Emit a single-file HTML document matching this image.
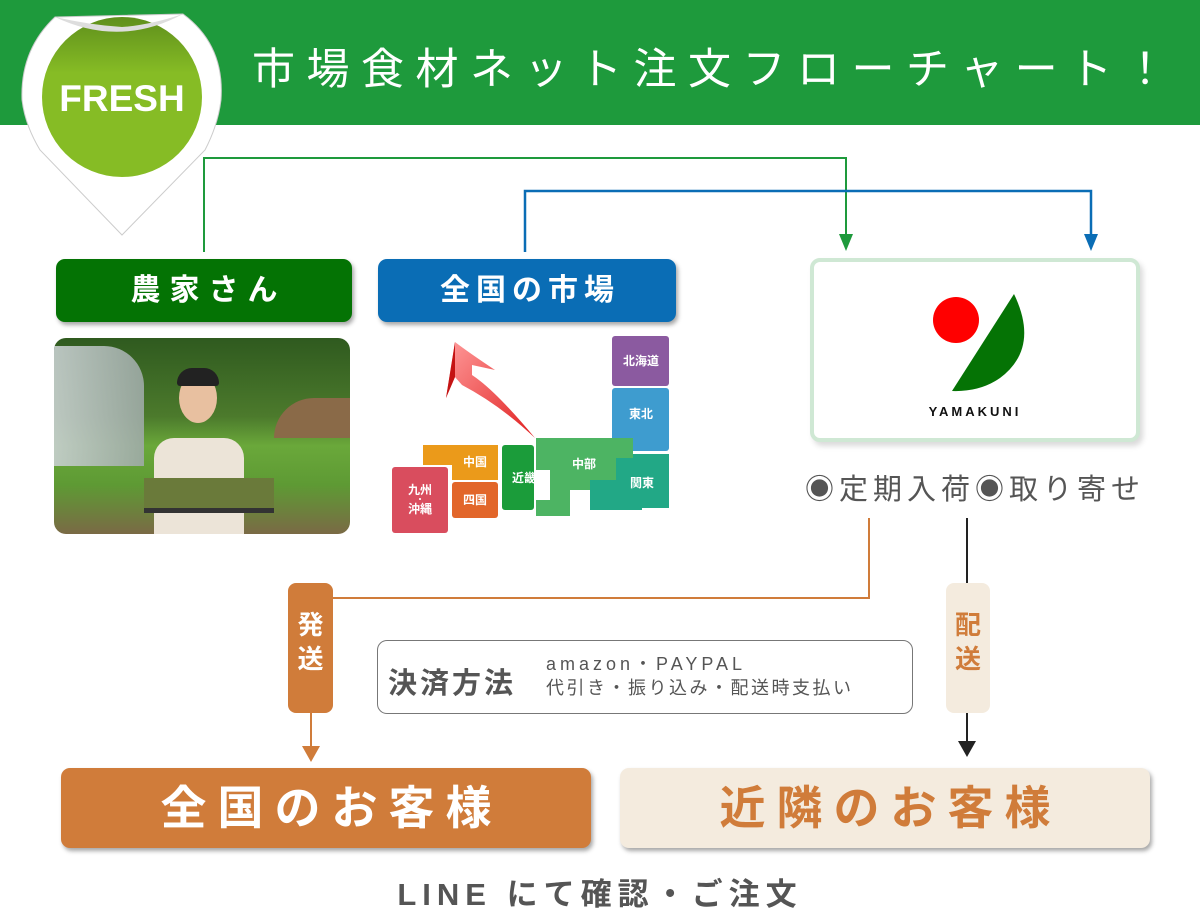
<!DOCTYPE html>
<html><head><meta charset="utf-8">
<style>
*{margin:0;padding:0;box-sizing:border-box}
body{width:1200px;height:920px;background:#fff;position:relative;overflow:hidden;font-family:"Liberation Sans","Noto Sans CJK JP",sans-serif}
.a{position:absolute}
.hdr{left:0;top:0;width:1200px;height:125px;background:#1e9a3c}
.title{left:252px;top:40px;color:#fff;font-size:43px;letter-spacing:11.5px;white-space:nowrap;line-height:60px}
.btn{border-radius:9px;color:#fff;font-weight:bold;text-align:center;box-shadow:2px 3px 4px rgba(0,0,0,.35);white-space:nowrap}
</style></head><body>
<div class="a hdr"></div>
<div class="a title">市場食材ネット注文フローチャート！</div>

<!-- badge -->
<svg class="a" style="left:0;top:0" width="240" height="240">
<path d="M55 17 L183 14 Q225 45 221 100 Q218 125 205 150 L122 235 L40 150 Q25 125 22 100 Q20 50 55 17Z" fill="#fff" stroke="#ccc" stroke-width="1"/>
<defs><linearGradient id="g" x1="0" y1="0" x2="0" y2="1"><stop offset="0" stop-color="#5f8f1c"/><stop offset=".35" stop-color="#86bc25"/><stop offset="1" stop-color="#86bc25"/></linearGradient>
<linearGradient id="r" x1="0" y1="0" x2="1" y2="1"><stop offset="0" stop-color="#ff9a9a"/><stop offset="1" stop-color="#e02020"/></linearGradient></defs>
<circle cx="122" cy="97" r="80" fill="url(#g)"/>
<path d="M55 17 Q120 48 183 14 Q150 25 122 27 Q90 25 55 17Z" fill="#ddd"/>
<text x="122" y="111" text-anchor="middle" font-family="Liberation Sans" font-weight="bold" font-size="37" fill="#fff">FRESH</text>
</svg>

<!-- connectors -->
<svg class="a" style="left:0;top:0" width="1200" height="920">
<polyline points="204,252 204,158 846,158 846,236" fill="none" stroke="#1e9a3c" stroke-width="2"/>
<polygon points="839,234 853,234 846,251" fill="#1e9a3c"/>
<polyline points="525,252 525,191 1091,191 1091,236" fill="none" stroke="#0a6db5" stroke-width="2.5"/>
<polygon points="1084,234 1098,234 1091,251" fill="#0a6db5"/>
<polyline points="869,518 869,598 333,598" fill="none" stroke="#d07c3a" stroke-width="2"/>
<line x1="311" y1="712" x2="311" y2="748" stroke="#d07c3a" stroke-width="2"/>
<polygon points="302,746 320,746 311,762" fill="#d07c3a"/>
<line x1="967" y1="518" x2="967" y2="583" stroke="#222" stroke-width="2"/>
<line x1="967" y1="712" x2="967" y2="742" stroke="#222" stroke-width="2"/>
<polygon points="958,741 976,741 967,757" fill="#222"/>
</svg>

<div class="a btn" style="left:56px;top:259px;width:296px;height:63px;background:#047304;font-size:30px;line-height:63px;letter-spacing:9px;padding-left:9px">農家さん</div>
<div class="a btn" style="left:378px;top:259px;width:298px;height:63px;background:#0a6db5;font-size:30px;line-height:63px;letter-spacing:6px;padding-left:6px">全国の市場</div>

<!-- photo -->
<div class="a" style="left:54px;top:338px;width:296px;height:196px;border-radius:12px;overflow:hidden;background:linear-gradient(180deg,#2f5a1f 0%,#4c7a2c 40%,#6aa83a 55%,#5e9a34 75%,#7a6a45 100%)">
<div class="a" style="left:0;top:8px;width:90px;height:120px;background:linear-gradient(90deg,#c8d0d0,#9eaaa6);border-radius:0 40px 0 0;opacity:.9"></div>
<div class="a" style="left:220px;top:60px;width:80px;height:40px;background:#8a6a48;border-radius:40px 0 0 0"></div>
<div class="a" style="left:100px;top:100px;width:90px;height:100px;background:#ece4d8;border-radius:20px 20px 0 0"></div>
<div class="a" style="left:125px;top:35px;width:38px;height:50px;background:#e8c0a0;border-radius:50%"></div>
<div class="a" style="left:123px;top:30px;width:42px;height:18px;background:#222;border-radius:20px 20px 4px 4px"></div>
<div class="a" style="left:90px;top:140px;width:130px;height:35px;background:#6a7a3a;border-bottom:5px solid #333"></div>
</div>

<!-- map -->
<svg class="a" style="left:380px;top:330px" width="300" height="210">
<path d="M155 108 Q115 60 92 45 L92 35 L115 40 Q88 22 75 12 L66 68 L75 47 L82 55 Q120 75 155 108Z" fill="url(#r)"/>
<path d="M75 12 L66 68 L75 47 Z" fill="#c41414"/>
<rect x="232" y="6" width="57" height="50" rx="3" fill="#8b5aa0"/>
<rect x="232" y="58" width="57" height="63" rx="3" fill="#3e9ccf"/>
<path d="M236 124 L289 124 L289 178 L262 178 L262 180 L210 180 L210 150 L236 150Z" fill="#22a886"/>
<path d="M156 108 L253 108 L253 128 L236 128 L236 150 L210 150 L210 160 L190 160 L190 186 L156 186 L156 170 L170 170 L170 140 L156 140Z" fill="#4db463"/>
<rect x="122" y="115" width="32" height="65" rx="3" fill="#1b9c3a"/>
<path d="M43 115 L118 115 L118 150 L72 150 L72 135 L43 135Z" fill="#eb9a1a"/>
<rect x="72" y="152" width="46" height="36" rx="3" fill="#e2662a"/>
<rect x="12" y="137" width="56" height="66" rx="3" fill="#d94d5e"/>
<g font-family="Liberation Sans,Noto Sans CJK JP" font-weight="bold" font-size="12" fill="#fff" text-anchor="middle">
<text x="261" y="35">北海道</text><text x="261" y="88">東北</text><text x="262" y="157">関東</text>
<text x="204" y="138">中部</text><text x="144" y="152">近畿</text><text x="95" y="136">中国</text><text x="95" y="174">四国</text>
<text x="40" y="164">九州</text><text x="40" y="172" font-size="8">・</text><text x="40" y="183">沖縄</text></g>
</svg>

<!-- yamakuni -->
<div class="a" style="left:810px;top:258px;width:330px;height:184px;border:4px solid #cfe8d4;border-radius:10px;background:#fff;box-shadow:3px 4px 6px rgba(0,0,0,.15)"></div>
<svg class="a" style="left:810px;top:258px" width="330" height="184">
<circle cx="146" cy="62" r="23" fill="#f00"/>
<path d="M204 36 Q230 90 190 120 Q170 134 142 133 Z" fill="#057305"/>
<text x="165" y="158" text-anchor="middle" font-family="Liberation Sans" font-weight="bold" font-size="13" letter-spacing="3" fill="#111">YAMAKUNI</text>
</svg>
<div class="a" style="left:805px;top:466px;font-size:29px;color:#555;white-space:nowrap;letter-spacing:5px">◉定期入荷◉取り寄せ</div>

<!-- 発送 / 配送 -->
<div class="a" style="left:288px;top:583px;width:45px;height:130px;background:#d07c3a;border-radius:8px;color:#fff;font-weight:bold;font-size:26px;line-height:34px;text-align:center;padding-top:25px">発<br>送</div>
<div class="a" style="left:946px;top:583px;width:44px;height:130px;background:#f4ebde;border-radius:8px;color:#d07c3a;font-weight:bold;font-size:26px;line-height:34px;text-align:center;padding-top:25px">配<br>送</div>

<!-- payment -->
<div class="a" style="left:377px;top:640px;width:536px;height:74px;border:1px solid #777;border-radius:10px"></div>
<div class="a" style="left:388px;top:660px;font-size:29px;font-weight:bold;color:#555;white-space:nowrap;letter-spacing:3px">決済方法</div>
<div class="a" style="left:546px;top:652px;font-size:18px;color:#555;letter-spacing:4px;line-height:24px;white-space:nowrap">amazon・PAYPAL</div>
<div class="a" style="left:546px;top:676px;font-size:18px;color:#555;letter-spacing:2.5px;line-height:24px;white-space:nowrap">代引き・振り込み・配送時支払い</div>

<!-- bottom -->
<div class="a btn" style="left:61px;top:768px;width:530px;height:80px;background:#d07c3a;font-size:46px;line-height:80px;letter-spacing:11px;padding-left:11px">全国のお客様</div>
<div class="a btn" style="left:620px;top:768px;width:530px;height:80px;background:#f4ebde;color:#d07c3a;font-size:46px;line-height:80px;letter-spacing:11px;padding-left:11px">近隣のお客様</div>
<div class="a" style="left:0;top:869px;width:1200px;text-align:center;font-size:31px;font-weight:bold;color:#555;letter-spacing:6px">LINE にて確認・ご注文</div>
</body></html>
